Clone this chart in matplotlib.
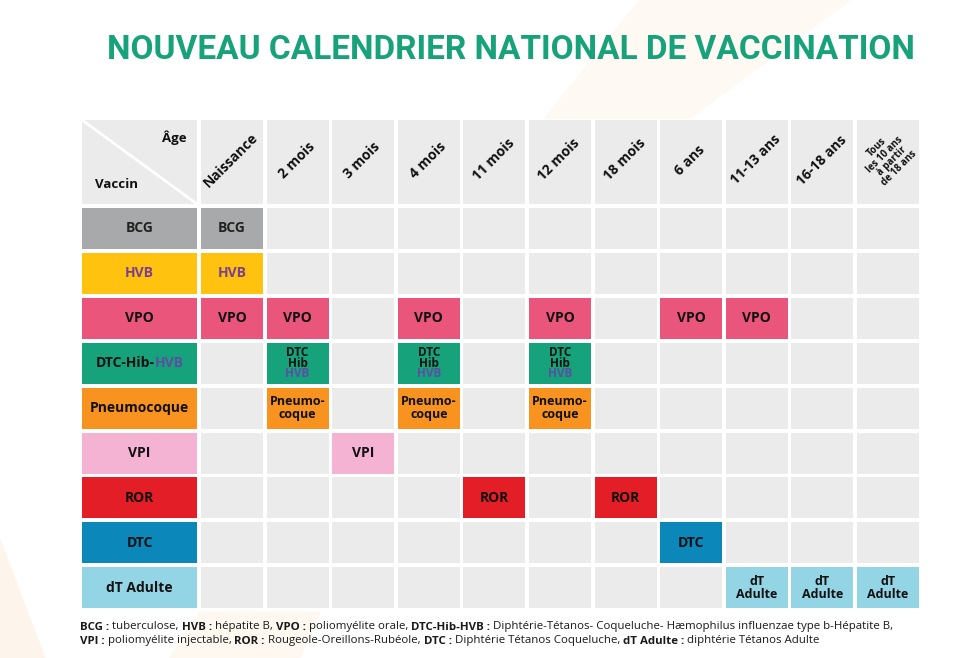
import matplotlib
matplotlib.use("Agg")
import matplotlib.pyplot as plt
from matplotlib.patches import Rectangle, Polygon

# ---- données du calendrier ----
ages = ["Naissance", "2 mois", "3 mois", "4 mois", "11 mois", "12 mois",
        "18 mois", "6 ans", "11-13 ans", "16-18 ans",
        "Tous\nles 10 ans\nà partir\nde 18 ans"]
vaccins = ["BCG", "HVB", "VPO", "DTC-Hib-HVB", "Pneumocoque", "VPI",
           "ROR", "DTC", "dT Adulte"]
couleurs = ["#a8a9ab", "#fec20f", "#ea557c", "#16a27b", "#f7931e",
            "#f4b3d2", "#e41e26", "#0b87ba", "#93d4e5"]
# indices des âges pour chaque vaccin
schedule = {
    "BCG": [0],
    "HVB": [0],
    "VPO": [0, 1, 3, 5, 7, 8],
    "DTC-Hib-HVB": [1, 3, 5],
    "Pneumocoque": [1, 3, 5],
    "VPI": [2],
    "ROR": [4, 6],
    "DTC": [7],
    "dT Adulte": [8, 9, 10],
}
HVB_COL = "#7b3f8f"
HVB_BLEU = "#5a4fa3"
# texte dans les cases : (texte, couleur) ; le 2e élément éventuel va en dessous
cell_text = {
    "BCG": [("BCG", "#222222")],
    "HVB": [("HVB", HVB_COL)],
    "VPO": [("VPO", "#111111")],
    "DTC-Hib-HVB": [("DTC\nHib", "#111111"), ("HVB", HVB_BLEU)],
    "Pneumocoque": [("Pneumo-\ncoque", "#111111")],
    "VPI": [("VPI", "#111111")],
    "ROR": [("ROR", "#111111")],
    "DTC": [("DTC", "#111111")],
    "dT Adulte": [("dT\nAdulte", "#111111")],
}
legende = [
    [("BCG :", True), (" tuberculose, ", False), ("HVB :", True),
     (" hépatite B, ", False), ("VPO :", True), (" poliomyélite orale, ", False),
     ("DTC-Hib-HVB :", True),
     (" Diphtérie-Tétanos- Coqueluche- Hæmophilus influenzae type b-Hépatite B,", False)],
    [("VPI :", True), (" poliomyélite injectable, ", False), ("ROR :", True),
     (" Rougeole-Oreillons-Rubéole, ", False), ("DTC :", True),
     (" Diphtérie Tétanos Coqueluche, ", False), ("dT Adulte :", True),
     (" diphtérie Tétanos Adulte", False)],
]

GREY = "#ebebeb"
GREEN = "#17a27c"
FONT = ["Open Sans", "DejaVu Sans"]
FS = 10
FS2 = 9

# géométrie en pixels
X0, W0 = 82, 115
CX0, CPITCH, CW = 201, 65.6, 62
HY0, HY1 = 120, 204
RY0, RPITCH, RH = 208, 44.9, 41

fig = plt.figure(figsize=(9.6, 6.58), dpi=100)
ax = fig.add_axes([0, 0, 1, 1])
ax.set_xlim(0, 960)
ax.set_ylim(658, 0)
ax.axis("off")
fig.canvas.draw()
r = fig.canvas.get_renderer()


def measure(txt, fs, bold=True, ls=1.0):
    t = ax.text(0, 0, txt, fontsize=fs, fontweight="bold" if bold else "normal",
                family=FONT, linespacing=ls)
    bb = t.get_window_extent(renderer=r)
    t.remove()
    return bb.width, bb.height


# pas de ligne natif (linespacing=1) pour FS2, pour obtenir des pas serrés
_, h1 = measure("A", FS2)
_, h2 = measure("A\nA", FS2)
NATIVE_STEP = h2 - h1

# fond : bandes pêche très pâles
ax.add_patch(Polygon([(640, 0), (850, 0), (690, 118), (545, 118)],
                     closed=True, color="#fef9f3", zorder=0))
ax.add_patch(Polygon([(0, 540), (45, 658), (0, 658)],
                     closed=True, color="#fdf5ec", zorder=0))
ax.add_patch(Polygon([(200, 612), (320, 612), (300, 658), (170, 658)],
                     closed=True, color="#fef8f1", zorder=0))

ax.text(511, 50, "NOUVEAU CALENDRIER NATIONAL DE VACCINATION",
        ha="center", va="center", color=GREEN, fontsize=24,
        fontweight="bold", family=["Roboto", "DejaVu Sans"])

# case d'angle
ax.add_patch(Rectangle((X0, HY0), W0, HY1 - HY0, color=GREY, lw=0))
ax.plot([X0, X0 + W0], [HY0, HY1], color="white", lw=2)
ax.text(187, 138, "Âge", ha="right", va="center", fontsize=9.5,
        fontweight="bold", family=FONT, color="#111111")
ax.text(95, 184, "Vaccin", ha="left", va="center", fontsize=9.5,
        fontweight="bold", family=FONT, color="#111111")

# en-têtes d'âge
for j, age in enumerate(ages):
    x = CX0 + j * CPITCH
    ax.add_patch(Rectangle((x, HY0), CW, HY1 - HY0, color=GREY, lw=0))
    if "\n" in age:
        ax.text(x + CW / 2, 158, age, rotation=45, ha="center", va="center",
                fontsize=7, fontweight="bold", family=FONT, color="#111111",
                linespacing=0.9, multialignment="center")
    else:
        ax.text(x + CW / 2 - 1, 160, age, rotation=45, ha="center", va="center",
                fontsize=10, fontweight="bold", family=FONT, color="#111111")

# lignes des vaccins
for i, (vac, col) in enumerate(zip(vaccins, couleurs)):
    y = RY0 + i * RPITCH
    ax.add_patch(Rectangle((X0, y), W0, RH, color=col, lw=0))
    if vac == "DTC-Hib-HVB":
        parts = [("DTC-Hib-", "#111111"), ("HVB", HVB_BLEU)]
        widths = [measure(p, FS)[0] for p, _ in parts]
        xs = X0 + W0 / 2 - sum(widths) / 2
        for (txt, c), w in zip(parts, widths):
            ax.text(xs, y + RH / 2, txt, ha="left", va="center", fontsize=FS,
                    fontweight="bold", family=FONT, color=c)
            xs += w
    else:
        ax.text(X0 + W0 / 2, y + RH / 2, vac, ha="center", va="center",
                fontsize=FS, fontweight="bold", family=FONT,
                color=cell_text[vac][0][1])
    for j in range(len(ages)):
        x = CX0 + j * CPITCH
        on = j in schedule[vac]
        ax.add_patch(Rectangle((x, y), CW, RH, color=col if on else GREY, lw=0))
        if not on:
            continue
        lines = cell_text[vac]
        cx, cy = x + CW / 2, y + RH / 2
        if len(lines) == 1 and "\n" not in lines[0][0]:
            ax.text(cx, cy, lines[0][0], ha="center", va="center",
                    fontsize=FS, fontweight="bold", family=FONT,
                    color=lines[0][1])
        elif len(lines) == 1:
            step = 12.5
            ax.text(cx, cy, lines[0][0], ha="center", va="center",
                    fontsize=FS2, fontweight="bold", family=FONT,
                    color=lines[0][1], linespacing=step / NATIVE_STEP,
                    multialignment="center")
        else:
            step = 10.5
            ax.text(cx, cy - step / 2, lines[0][0], ha="center", va="center",
                    fontsize=FS2 - 0.5, fontweight="bold", family=FONT,
                    color=lines[0][1], linespacing=step / NATIVE_STEP,
                    multialignment="center")
            ax.text(cx, cy + step, lines[1][0], ha="center", va="center",
                    fontsize=FS2 - 0.5, fontweight="bold", family=FONT,
                    color=lines[1][1])

# légende en bas, morceaux gras / normal
for li, parts in enumerate(legende):
    x = 80
    y = 627 + li * 14
    for txt, bold in parts:
        t = ax.text(x, y, txt, ha="left", va="center", fontsize=8.25,
                    fontweight="bold" if bold else "normal", family=FONT,
                    color="#1a1a1a")
        x += t.get_window_extent(renderer=r).width

fig.savefig("out.png", dpi=100)
